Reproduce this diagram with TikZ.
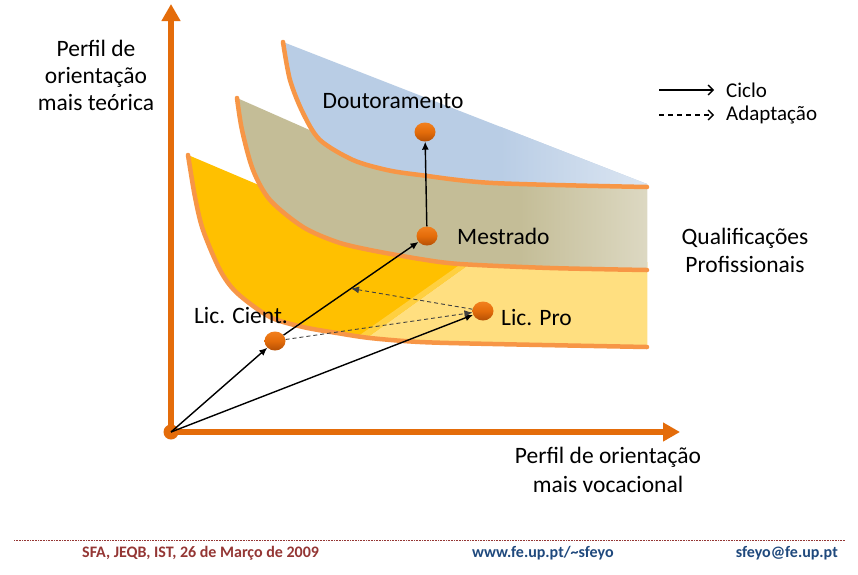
\documentclass[tikz,border=0pt]{standalone}
\usepackage{fontspec}
\setmainfont{Carlito}
\usetikzlibrary{arrows.meta,shapes.geometric,calc}
\definecolor{axisc}{HTML}{E46C0A}
\definecolor{curvec}{HTML}{F79646}
\definecolor{bluef}{HTML}{B9CDE5}
\definecolor{bluel}{HTML}{DCE6F2}
\definecolor{tanf}{HTML}{C4BD97}
\definecolor{tanl}{HTML}{DDD9C3}
\definecolor{yeld}{HTML}{FFC000}
\definecolor{yell}{HTML}{FFDF80}
\definecolor{balltop}{HTML}{F2801E}
\definecolor{ballmid}{HTML}{E46C0A}
\definecolor{ballbot}{HTML}{B55005}
\definecolor{footred}{HTML}{943634}
\definecolor{footblue}{HTML}{1F497D}
\tikzset{
  bandcurve/.style={draw=curvec, line width=4.5pt, line cap=round},
  axisline/.style={draw=axisc, line width=6pt, -{Triangle[length=17pt,width=18pt]}},
  ballnode/.style={ellipse, minimum width=21pt, minimum height=19pt, inner sep=0pt, top color=balltop, bottom color=ballbot, middle color=ballmid},
  cyc/.style={draw=black, line width=1.4pt, -{Latex[length=8pt,width=7pt]}},
  adp/.style={draw=black!75, line width=0.9pt, dash pattern=on 4pt off 3pt, -{Latex[length=8pt,width=7pt]}},
  legsolid/.style={draw=black, line width=1.3pt, -{Straight Barb[length=5pt,width=10pt]}},
  legdash/.style={draw=black, line width=1.3pt, dash pattern=on 5pt off 4pt, -{Straight Barb[length=5pt,width=10pt]}},
  lbl/.style={font=\fontsize{23.5}{27}\selectfont, inner sep=0pt},
  leglbl/.style={font=\fontsize{21}{25}\selectfont, inner sep=0pt, anchor=west},
  foot/.style={font=\fontsize{16}{18}\selectfont\bfseries, inner sep=0pt}
}
\begin{document}
\begin{tikzpicture}[x=1pt,y=-1pt]
\useasboundingbox (0,0) rectangle (858,574);
\fill[white] (0,0) rectangle (858,574);

% ---------- yellow band ----------
\begin{scope}
\clip plot[smooth] coordinates {(188,155) (195,197) (203,230) (220,270) (237,293) (270,317) (303,327) (337,333) (370,338) (420,342) (493,344) (647,347)} -- (647,262) -- (280,194) -- cycle;
\fill[yeld] (150,100) rectangle (700,400);
\fill[yell] (503,240) -- (700,240) -- (700,370) -- (322,370) -- cycle;
\fill[yell!50!yeld] (495,240) -- (503,240) -- (322,370) -- (310,370) -- cycle;
\end{scope}
\draw[bandcurve] plot[smooth] coordinates {(188,155) (195,197) (203,230) (220,270) (237,293) (270,317) (303,327) (337,333) (370,338) (420,342) (493,344) (647,347)};

% ---------- tan band ----------
\begin{scope}
\clip plot[smooth] coordinates {(237,98) (242,130) (253,170) (270,200) (303,227) (337,242) (370,250) (420,259) (460,264) (550,268) (647,270)} -- (647,184) -- (330,139) -- cycle;
\fill[tanf] (200,60) rectangle (700,300);
\shade[left color=tanf, right color=tanl] (520,60) rectangle (650,300);
\end{scope}
\draw[bandcurve] plot[smooth] coordinates {(237,98) (242,130) (253,170) (270,200) (303,227) (337,242) (370,250) (420,259) (460,264) (550,268) (647,270)};

% ---------- blue band ----------
\begin{scope}
\clip plot[smooth] coordinates {(283,42) (290,80) (303,113) (320,140) (353,160) (387,170) (420,175) (493,183) (647,187)} -- (647,184) -- cycle;
\fill[bluef] (250,20) rectangle (700,220);
\shade[left color=bluef, right color=bluel] (500,20) rectangle (650,220);
\end{scope}
\draw[bandcurve] plot[smooth] coordinates {(283,42) (290,80) (303,113) (320,140) (353,160) (387,170) (420,175) (493,183) (647,187)};

% ---------- axes ----------
\coordinate (ax0) at (171,432);
\coordinate (axy) at (171,4);
\coordinate (axx) at (680,432);
\draw[axisline] (ax0) -- (axy);
\draw[axisline] (ax0) -- (axx);

% ---------- points ----------
\node[circle, fill=axisc, minimum size=15pt, inner sep=0pt] (o) at (171,432) {};
\node[ballnode] (lc) at (275,341) {};
\node[ballnode] (lp) at (483,311) {};
\node[ballnode] (ms) at (427,236) {};
\node[ballnode] (dr) at (425,132) {};

% ---------- connectors ----------
\draw[cyc] (o.center) -- (lc);
\draw[cyc] (o.center) -- (lp);
\draw[cyc] (lc) -- (ms);
\draw[cyc] (ms) -- (dr);
\coordinate (mid) at ($(lc)!0.5!(ms)$);
\draw[adp] (lc) -- (lp);
\draw[adp] (lp) -- (mid);

% ---------- labels ----------
\node[lbl] (tdr) at (393,101) {Doutoramento};
\node[lbl, anchor=west] (tms) at (457,236) {Mestrado};
\node[lbl] (tlc) at (241,315) {Lic. Cient.};
\node[lbl, anchor=west] (tlp) at (501,317) {Lic. Pro};
\node[lbl, align=center] (tya) at (96,75) {Perfil de\\orientação\\mais teórica};
\node[lbl, align=center, font=\fontsize{23.5}{29}\selectfont] (txa) at (608,470) {Perfil de orientação\\mais vocacional};
\node[lbl, align=center, font=\fontsize{23.5}{28}\selectfont] (tqp) at (745,250) {Qualificações\\Profissionais};

% ---------- legend ----------
\coordinate (l1a) at (659,90);
\coordinate (l1b) at (714,90);
\coordinate (l2a) at (659,115);
\coordinate (l2b) at (714,115);
\draw[legsolid] (l1a) -- (l1b);
\draw[legdash] (l2a) -- (l2b);
\node[leglbl] (tl1) at (726,90) {Ciclo};
\node[leglbl] (tl2) at (726,115) {Adaptação};

% ---------- footer ----------
\coordinate (fl) at (14,540);
\coordinate (fr) at (845,540);
\draw[footred, line width=0.8pt, dash pattern=on 0.8pt off 0.8pt] (fl) -- (fr);
\node[foot, text=footred, anchor=west] (f1) at (82,553) {SFA, JEQB, IST, 26 de Março de 2009};
\node[foot, text=footblue, anchor=west] (f2) at (472,553) {www.fe.up.pt/\char`\~sfeyo};
\node[foot, text=footblue, anchor=east] (f3) at (838,553) {sfeyo@fe.up.pt};
\end{tikzpicture}
\end{document}
